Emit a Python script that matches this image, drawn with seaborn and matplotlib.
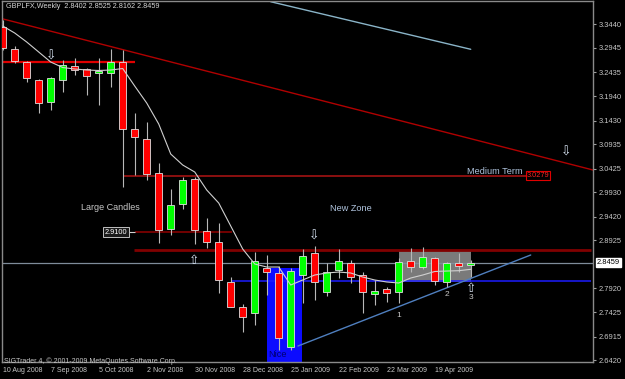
import numpy as np
import pandas as pd
import matplotlib
matplotlib.use("Agg")
import matplotlib.pyplot as plt
import seaborn as sns
from matplotlib.patches import Rectangle

# ---------------- data ----------------
tick_labels = ["10 Aug 2008", "7 Sep 2008", "5 Oct 2008", "2 Nov 2008", "30 Nov 2008",
               "28 Dec 2008", "25 Jan 2009", "22 Feb 2009", "22 Mar 2009", "19 Apr 2009"]
opens = [3.3390, 3.2918, 3.2659, 3.2276, 3.1823, 3.2276, 3.2575, 3.2500, 3.2433, 3.2416,
         3.2659, 3.1246, 3.1037, 3.0327, 2.9157, 2.9679, 3.0201, 2.9121, 2.8885, 2.8062,
         2.7540, 2.7414, 2.8342, 2.8237, 2.6704, 2.8202, 2.8655, 2.7853, 2.8306, 2.8459,
         2.8202, 2.7799, 2.7903, 2.7840, 2.8501, 2.8363, 2.8551, 2.8062, 2.8446, 2.8402]
highs = [3.3530, 3.2987, 3.2673, 3.2297, 3.2339, 3.2694, 3.2730, 3.2521, 3.2730, 3.2918,
         3.2903, 3.1580, 3.1405, 3.0536, 2.9992, 3.0256, 3.0250, 2.9387, 2.9282, 2.8166,
         2.7596, 2.8689, 2.8620, 2.8390, 2.8342, 2.8739, 2.8808, 2.8459, 2.8739, 2.8515,
         2.8271, 2.8097, 2.7957, 2.8551, 2.8760, 2.8781, 2.8578, 2.8473, 2.8668, 2.8525]
lows = [3.2903, 3.2625, 3.2241, 3.1593, 3.1649, 3.2032, 3.2381, 3.1963, 3.1754, 3.2136,
        3.0047, 3.0291, 3.0187, 2.8870, 2.9038, 2.9575, 2.8850, 2.8766, 2.7820, 2.7540,
        2.7017, 2.7157, 2.7784, 2.6635, 2.6635, 2.7611, 2.7680, 2.7763, 2.8133, 2.8029,
        2.7402, 2.7575, 2.7644, 2.7611, 2.8271, 2.8327, 2.7993, 2.7957, 2.8271, 2.8162]
closes = [3.2939, 3.2673, 3.2312, 3.1789, 3.2312, 3.2590, 3.2485, 3.2366, 3.2464, 3.2646,
          3.1252, 3.1092, 3.0306, 2.9142, 2.9664, 3.0187, 2.9142, 2.8898, 2.8097, 2.7540,
          2.7331, 2.8501, 2.8258, 2.6879, 2.8285, 2.8605, 2.8062, 2.8271, 2.8501, 2.8154,
          2.7853, 2.7868, 2.7820, 2.8480, 2.8363, 2.8572, 2.8083, 2.8446, 2.8390, 2.8459]
moving_avg = [3.3404, 3.3258, 3.3070, 3.2861, 3.2652, 3.2537, 3.2506, 3.2485, 3.2475, 3.2485,
              3.2516, 3.2150, 3.1795, 3.1357, 3.0730, 3.0500, 3.0354, 2.9978, 2.9706, 2.9226,
              2.8745, 2.8432, 2.8369, 2.8369, 2.7993, 2.8098, 2.8202, 2.8244, 2.8264, 2.8244,
              2.8160, 2.8098, 2.8056, 2.8035, 2.8139, 2.8202, 2.8275, 2.8285, 2.8292, 2.8321]
y_ticks = [3.3440, 3.2945, 3.2435, 3.1940, 3.1430, 3.0935, 3.0425, 2.9930, 2.9420, 2.8925,
           2.7920, 2.7425, 2.6915, 2.6420]
last_price = 2.8459
title_text = "GBPLFX,Weekly  2.8402 2.8525 2.8162 2.8459"

# horizontal levels: price, start bar, end bar
level_prices = [3.2659, 3.0279, 2.9100, 2.8724, 2.8083]
level_starts = [-0.06, 10.0, 11.0, 10.95, 19.0]
level_ends = [11.0, 43.65, 19.1, 49.0, 49.0]
# trend lines: (bar, price) endpoints
resist_bars = [-0.06, 49.19]; resist_prices = [3.3557, 3.0396]
cyan_bars = [22.33, 39.0]; cyan_prices = [3.3912, 3.2918]
support_bars = [24.6, 44.0]; support_prices = [2.6718, 2.8620]
# zones
blue_zone_bars = [22.05, 24.97]; blue_zone_prices = [2.6390, 2.8342]
grey_zone_bars = [33.0, 39.0]; grey_zone_prices = [2.8062, 2.8724]

# ---------------- style ----------------
sns.set_style("dark", {"axes.facecolor": "black", "figure.facecolor": "black"})
plt.rcParams['font.family'] = ['Liberation Sans', 'DejaVu Sans']

df = pd.DataFrame({"bar": np.arange(len(opens)), "open": opens, "high": highs,
                   "low": lows, "close": closes, "ma": moving_avg})

fig = plt.figure(figsize=(6.25, 3.79), dpi=100, facecolor='black')
ax = fig.add_axes([2/625, (379-362.3)/379, 591/625, 361.3/379])
ax.set_facecolor('black')
ax.set_xlim(-0.06, 49.19)
ax.set_ylim(2.6378, 3.3927)

# zones
ax.add_patch(Rectangle((blue_zone_bars[0], blue_zone_prices[0]), blue_zone_bars[1]-blue_zone_bars[0],
                       blue_zone_prices[1]-blue_zone_prices[0], facecolor='#0c0cff', edgecolor='none', zorder=1))
ax.add_patch(Rectangle((grey_zone_bars[0], grey_zone_prices[0]), grey_zone_bars[1]-grey_zone_bars[0],
                       grey_zone_prices[1]-grey_zone_prices[0], facecolor='#7a7a7a', edgecolor='none', zorder=1))

# current price line
ax.axhline(last_price, color='#7f8c9a', lw=0.9, zorder=1.5)

# levels
level_colors = ['#e00000', '#8b1010', '#900000', '#800000', '#1c1cff']
level_widths = [1.6, 1.4, 1.1, 2.0, 1.1]
for p, s, e, c, w in zip(level_prices, level_starts, level_ends, level_colors, level_widths):
    ax.hlines(p, s, e, color=c, lw=w, zorder=2)
ax.hlines(level_prices[2], 10.44, 11.0, color='#d0d0d0', lw=0.8, zorder=2)

# trend lines
ax.plot(resist_bars, resist_prices, color='#b00000', lw=1.0, zorder=2)
ax.plot(cyan_bars, cyan_prices, color='#8ab4c8', lw=1.0, zorder=2)
ax.plot(support_bars, support_prices, color='#4f7fbf', lw=1.0, zorder=2)

# candles
colors = np.where(df['close'] >= df['open'], '#00ff00', '#ff0000')
ax.vlines(df['bar'], df['low'], df['high'], color='#b8b8b8', lw=0.8, zorder=3)
ax.bar(df['bar'], df['close'] - df['open'], bottom=df['open'], width=0.6,
       color=colors, edgecolor='#e0e0e0', linewidth=0.6, zorder=4)

# moving average
sns.lineplot(data=df, x='bar', y='ma', ax=ax, color='#d0d0d0', lw=0.8, zorder=5, legend=False)

# ticks
ax.yaxis.tick_right()
ax.set_yticks(y_ticks)
ax.set_yticklabels([f"{v:.4f}" for v in y_ticks])
ax.set_xticks(np.arange(0, 40, 4))
ax.set_xticklabels(tick_labels)
for lbl in ax.get_xticklabels():
    lbl.set_ha('left')
ax.tick_params(axis='y', length=2.5, width=0.8, color='#a0a0a0', pad=1.5,
               labelsize=5.4, labelcolor='#c8c8c8', right=True, left=False)
ax.tick_params(axis='x', length=2.5, width=0.8, color='#a0a0a0', pad=1.0,
               labelsize=5.0, labelcolor='#c8c8c8')
ax.set_xlabel(''); ax.set_ylabel('')
for sp in ax.spines.values():
    sp.set_color('#8a8a8a'); sp.set_linewidth(1.0); sp.set_visible(True)
ax.grid(False)

# last price label
ax.annotate(f"{last_price:.4f}", xy=(1.0068, last_price), xycoords=('axes fraction', 'data'),
            ha='left', va='center', fontsize=5.4, color='black',
            bbox=dict(boxstyle='square,pad=0.15', fc='white', ec='white'), annotation_clip=False)

# texts
ax.text(0.0068, 0.985, title_text, transform=ax.transAxes, fontsize=5.2, color='#d8d8d8', ha='left', va='center')
ax.text(0.0039, 0.004, "SIGTrader 4, © 2001-2009 MetaQuotes Software Corp.", transform=ax.transAxes,
        fontsize=5.0, color='#c8c8c8', ha='left', va='center')
ax.text(8.97, 2.9616, "Large Candles", fontsize=6.5, color='#c8c8c8', ha='center', va='center', zorder=6)
ax.text(29.0, 2.9596, "New Zone", fontsize=6.6, color='#b0c4de', ha='center', va='center', zorder=6)
ax.text(41.0, 3.0364, "Medium Term", fontsize=6.6, color='#b0c4de', ha='center', va='center', zorder=6)
ax.text(22.13, 2.6545, "Nice", fontsize=6.7, color='#000070', ha='left', va='center', zorder=6)
ax.text(9.44, 2.9100, "2.9100", fontsize=5.3, color='white', ha='center', va='center', zorder=6,
        bbox=dict(boxstyle='square,pad=0.2', fc='#1a1a1a', ec='#c0c0c0', lw=0.7))
ax.text(44.6, 3.0279, "3.0279", fontsize=5.3, color='#ff2020', ha='center', va='center', zorder=6,
        bbox=dict(boxstyle='square,pad=0.15', fc='black', ec='#e00000', lw=0.8))
for lab, bx, py in [("1", 32.97, 2.7366), ("2", 37.0, 2.7799), ("3", 39.0, 2.7742)]:
    ax.text(bx, py, lab, fontsize=6, color='#c8c8c8', ha='center', va='center', zorder=6)
for ch, bx, py in [("\u21e9", 4.0, 3.2778), ("\u21e7", 15.97, 2.8495), ("\u21e9", 25.98, 2.9017),
                   ("\u21e9", 46.92, 3.0766), ("\u21e7", 39.0, 2.7930)]:
    ax.text(bx, py, ch, fontsize=9, color='#d8e4f4', ha='center', va='center', zorder=6,
            family=['DejaVu Sans'])

fig.savefig("out.png", dpi=100, facecolor='black')
